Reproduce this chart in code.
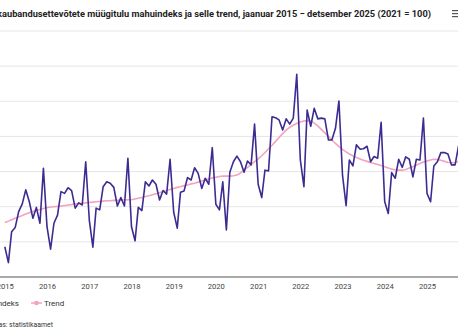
<!DOCTYPE html>
<html>
<head>
<meta charset="utf-8">
<script src="https://cdn.jsdelivr.net/npm/d3@7"></script>
<style>
  body { margin: 0; background: #fff; }
  svg { display: block; font-family: Roboto, "Noto Sans", sans-serif; }
</style>
</head>
<body>
<script>
// Jaekaubandus: müügitulu mahuindeks (2021 = 100), kuud jaanuar 2015 - detsember 2025
var years = [2015, 2016, 2017, 2018, 2019, 2020, 2021, 2022, 2023, 2024, 2025];

var indexValues = [
  68.6, 64.1, 72.9, 74.1, 78.6, 80.8, 84.8, 81.4, 76.7, 79.8, 75.3, 90.9,
  74.3, 67.9, 75.3, 77.6, 84.3, 83.8, 85.4, 84.6, 79.6, 81.1, 80.5, 92.8,
  76.2, 68.5, 79.6, 79.1, 85.7, 87.1, 86.7, 85.5, 80.2, 82.6, 80.2, 93.8,
  74.3, 70.3, 79.8, 78.9, 87.1, 85.9, 87.6, 86.4, 81.9, 84.6, 83.6, 93.5,
  78.5, 73.9, 84.1, 84.5, 88.3, 87.6, 91.1, 89.5, 85.2, 88.1, 86.4, 96.8,
  80.7, 79.1, 87.1, 73.4, 89.8, 92.8, 94.4, 92.8, 89.8, 93.0, 91.9, 103.5,
  86.4, 82.6, 90.4, 90.2, 105.6, 105.3, 104.7, 101.8, 105.0, 103.5, 105.2, 117.7,
  93.3, 85.7, 107.5, 102.9, 108.0, 105.0, 105.2, 105.0, 99.0, 99.0, 102.3, 110.1,
  89.0, 80.3, 93.3, 91.6, 97.6, 96.4, 96.5, 97.2, 92.8, 94.3, 93.8, 104.0,
  81.4, 78.1, 89.7, 88.1, 93.5, 91.2, 94.2, 93.5, 88.5, 93.5, 93.3, 105.2,
  83.8, 81.4, 91.6, 92.8, 95.4, 95.4, 95.0, 91.9, 91.9, 97.3, 94.5, 106.5
];

var trendValues = [
  75.5, 75.9, 76.3, 76.7, 77.1, 77.5, 77.9, 78.3, 78.6, 78.9, 79.2, 79.5,
  79.7, 79.9, 80.0, 80.1, 80.2, 80.3, 80.5, 80.6, 80.8, 80.9, 81.0, 81.1,
  81.2, 81.3, 81.4, 81.5, 81.6, 81.7, 81.7, 81.8, 81.8, 81.9, 81.9, 82.0,
  82.0, 82.2, 82.4, 82.6, 82.9, 83.1, 83.4, 83.7, 84.0, 84.3, 84.6, 84.9,
  85.2, 85.5, 85.7, 86.0, 86.2, 86.5, 86.7, 87.0, 87.3, 87.6, 87.9, 88.2,
  88.4, 88.6, 88.7, 88.7, 88.7, 88.8, 89.0, 89.6, 90.4, 91.2, 92.0, 92.8,
  93.6, 94.5, 95.4, 96.5, 97.5, 98.6, 99.7, 100.8, 101.8, 102.6, 103.2, 103.7,
  104.1, 104.4, 104.5, 104.4, 103.8, 103.0, 102.0, 101.0, 100.0, 99.0, 98.0, 97.1,
  96.3, 95.6, 95.0, 94.5, 94.0, 93.6, 93.2, 92.9, 92.6, 92.3, 92.0, 91.7,
  91.4, 91.0, 90.7, 90.5, 90.4, 90.4, 90.6, 91.0, 91.4, 91.8, 92.3, 92.7,
  93.0, 93.3, 93.5, 93.4, 93.2, 92.9, 92.6, 92.5, 92.6, 92.9, 93.2, 93.5
];

var yTicks = [60, 70, 80, 90, 100, 110, 120, 130];

var titleText = 'Jaekaubandusettevõtete müügitulu mahuindeks ja selle trend, jaanuar 2015 − detsember 2025 (2021 = 100)';
var sourceText = 'Allikas: statistikaamet';

var w = 458;
var h = 336;

// kuupäevad: iga kuu esimene päev
var months = indexValues.map((v, i) => new Date(years[0], i, 1));

var svg = d3
  .select('body')
  .append('svg')
  .attr('width', w)
  .attr('height', h);

// joonise ala ulatub üle lõuendi servade: 2016 -> x=47, 2025 -> x=427
var pxPerMs = 380 / (new Date(2025, 0, 1) - new Date(2016, 0, 1));
var xStart = months[0];
var xEnd = months[months.length - 1];

var xScale = d3
  .scaleTime()
  .domain([xStart, xEnd])
  .range([
    47 + (xStart - new Date(2016, 0, 1)) * pxPerMs,
    47 + (xEnd - new Date(2016, 0, 1)) * pxPerMs
  ]);

var yScale = d3
  .scaleLinear()
  .domain([60, 130])
  .range([277, 31]);

svg
  .append('text')
  .attr('x', 431)
  .attr('y', 17)
  .attr('text-anchor', 'end')
  .attr('font-size', '9.25px')
  .attr('font-weight', 'bold')
  .attr('fill', '#222')
  .text(titleText);

// menüünupp
svg
  .append('g')
  .selectAll('rect')
  .data([0, 1, 2])
  .enter()
  .append('rect')
  .attr('x', 452)
  .attr('y', d => 10 + d * 3)
  .attr('width', 8)
  .attr('height', 1.2)
  .attr('fill', '#555');

// ruudustik
svg
  .append('g')
  .selectAll('line')
  .data(yTicks.slice(1))
  .enter()
  .append('line')
  .attr('x1', 0)
  .attr('x2', w)
  .attr('y1', d => yScale(d))
  .attr('y2', d => yScale(d))
  .attr('stroke', '#e6e6e6')
  .attr('stroke-width', 1);

var xAxis = svg
  .append('g')
  .attr('transform', `translate(0,${yScale(60)})`)
  .call(
    d3
      .axisBottom(xScale)
      .ticks(d3.timeYear.every(1))
      .tickFormat(d3.timeFormat('%Y'))
      .tickSize(0)
      .tickPadding(7)
  );
xAxis.select('.domain').remove();
xAxis
  .append('line')
  .attr('x1', 0)
  .attr('x2', w)
  .attr('stroke', '#555')
  .attr('stroke-width', 1.2);
xAxis
  .selectAll('text')
  .attr('font-family', 'Roboto, sans-serif')
  .attr('font-size', '7.6px')
  .attr('fill', '#444');

var line = d3
  .line()
  .x((d, i) => xScale(months[i]))
  .y(d => yScale(d));

svg
  .append('path')
  .datum(trendValues)
  .attr('d', line)
  .attr('fill', 'none')
  .attr('stroke', '#f2a3bd')
  .attr('stroke-width', 1.6)
  .attr('stroke-linejoin', 'round');

svg
  .append('path')
  .datum(indexValues)
  .attr('d', line)
  .attr('fill', 'none')
  .attr('stroke', '#3c2c92')
  .attr('stroke-width', 1.6)
  .attr('stroke-linejoin', 'round');

// legend
var legend = svg.append('g').attr('font-size', '8px').attr('fill', '#333');

legend
  .append('text')
  .attr('x', 19)
  .attr('y', 306)
  .attr('text-anchor', 'end')
  .text('Mahuindeks');

legend
  .append('line')
  .attr('x1', 31)
  .attr('x2', 42)
  .attr('y1', 303)
  .attr('y2', 303)
  .attr('stroke', '#f2a3bd')
  .attr('stroke-width', 1.5);

legend
  .append('circle')
  .attr('cx', 36.5)
  .attr('cy', 303)
  .attr('r', 2.3)
  .attr('fill', '#f2a3bd');

legend
  .append('text')
  .attr('x', 44)
  .attr('y', 306)
  .text('Trend');

svg
  .append('text')
  .attr('x', 53)
  .attr('y', 327)
  .attr('text-anchor', 'end')
  .attr('font-size', '6.9px')
  .attr('fill', '#333')
  .text(sourceText);
</script>
</body>
</html>
